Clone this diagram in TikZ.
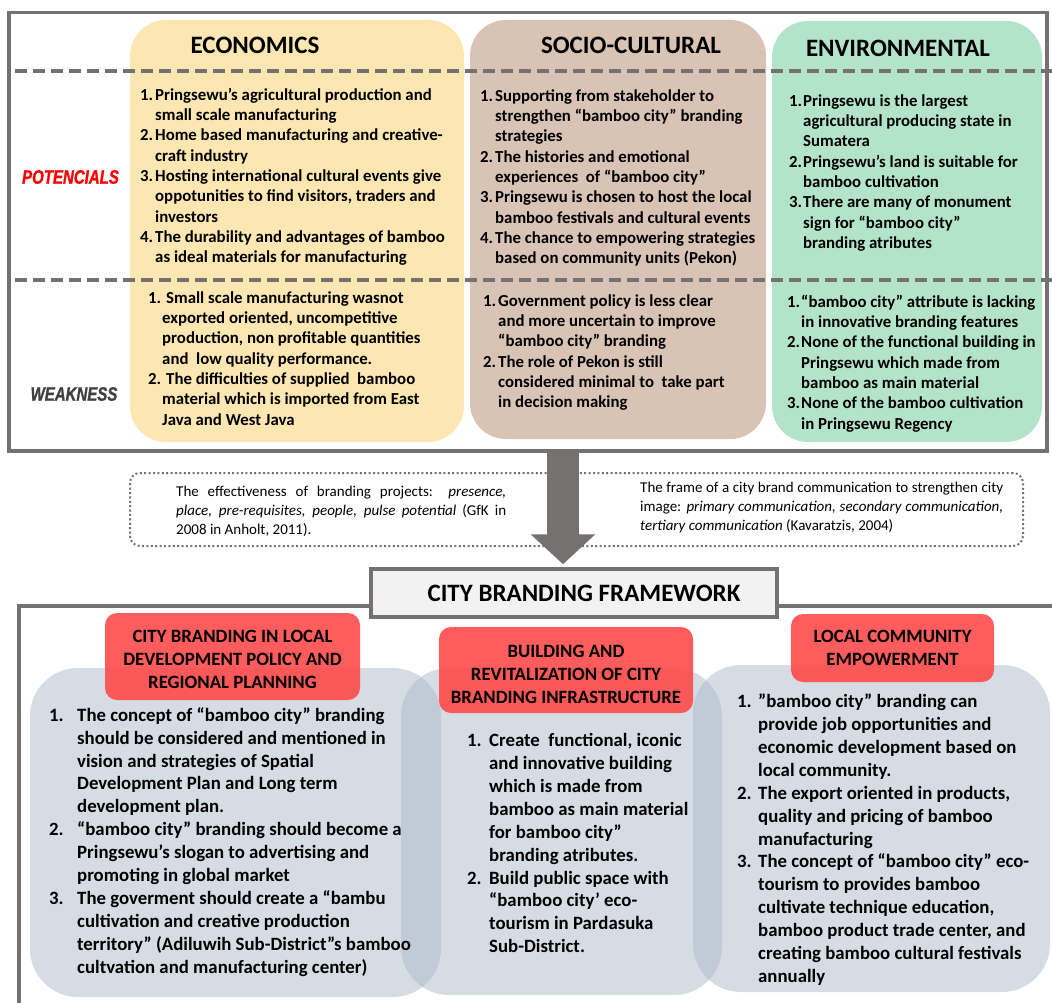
\documentclass[tikz,border=0pt]{standalone}
\usepackage{fontspec}
\setmainfont{Carlito}
\newfontfamily\etiquette[FakeStretch=0.77,FakeBold=1.2]{Liberation Sans}
\usetikzlibrary{arrows.meta}
\definecolor{framegray}{HTML}{767171}
\definecolor{ecofill}{HTML}{FCE7B2}
\definecolor{sociofill}{HTML}{D8C3B5}
\definecolor{envfill}{HTML}{B3E3C9}
\definecolor{panelblue}{HTML}{ADB9CA}
\definecolor{headred}{HTML}{FF4B4B}
\definecolor{cbffill}{HTML}{F2F2F2}
\definecolor{weakgray}{HTML}{404040}
\newcommand{\nr}[2][15pt]{\makebox[#1][l]{#2}}

\begin{document}
\begin{tikzpicture}[x=1pt,y=-1pt]
% définition des styles
\tikzstyle{cadre}=[draw=framegray,line width=3.5pt]
\tikzstyle{colonne}=[rectangle,rounded corners=36pt,inner sep=0pt]
\tikzstyle{titre}=[font=\fontsize{25}{30}\selectfont\bfseries,inner sep=0pt]
\tikzstyle{liste}=[anchor=north west,align=left,inner sep=0pt,font=\fontsize{16.8}{20.3}\selectfont\bfseries]
\tikzstyle{grandeliste}=[anchor=north west,align=left,inner sep=0pt,font=\fontsize{18.8}{22.9}\selectfont\bfseries]
\tikzstyle{tirets}=[draw=framegray,line width=4pt,dash pattern=on 12pt off 6pt]
\tikzstyle{reftexte}=[anchor=north west,inner sep=0pt,align=justify,font=\fontsize{15}{19}\selectfont]
\tikzstyle{panneau}=[rectangle,rounded corners=48pt,fill=panelblue,fill opacity=0.5,inner sep=0pt]
\tikzstyle{entete}=[rectangle,rounded corners=12pt,fill=headred,fill opacity=0.9,text opacity=1,align=center,inner sep=0pt,font=\fontsize{18.8}{23}\selectfont\bfseries]
\tikzstyle{fleche}=[draw=framegray,line width=32pt,-{Triangle[width=63pt,length=30pt]}]
\useasboundingbox (0,0) rectangle (1052,1003);
% le cadre du haut
\node[cadre,rectangle,minimum width=1038pt,minimum height=438.5pt,inner sep=0pt] (FRAME) at (528,231.75) {};
\node[colonne,fill=ecofill,minimum width=334pt,minimum height=422pt] (ECO) at (297,231) {};
\node[colonne,fill=sociofill,minimum width=296pt,minimum height=419pt] (SOC) at (618,229.5) {};
\node[colonne,fill=envfill,minimum width=270pt,minimum height=421pt] (ENV) at (907,231.5) {};
\draw[tirets] (15,71) -- (1052,71);
\draw[tirets] (15,280) -- (1052,280);
% les titres
\node[titre] (ECOT) at (255,45.6) {ECONOMICS};
\node[titre] (SOCT) at (631,45.6) {SOCIO-CULTURAL};
\node[titre] (ENVT) at (898,48) {ENVIRONMENTAL};
\node[font=\etiquette\fontsize{19.5}{20}\selectfont\bfseries\itshape,text=red,inner sep=0pt] (POT) at (70.5,177) {POTENCIALS};
\node[font=\etiquette\fontsize{19.5}{20}\selectfont\bfseries\itshape,text=weakgray,inner sep=0pt] (WEAK) at (74,394) {WEAKNESS};
% les listes du haut
\node[liste] (ECOP) at (140,85.8) {\strut\nr{1.}Pringsewu’s agricultural production and\\
\nr{}small scale manufacturing\\
\nr{2.}Home based manufacturing and creative-\\
\nr{}craft industry\\
\nr{3.}Hosting international cultural events give\\
\nr{}oppotunities to find visitors, traders and\\
\nr{}investors\\
\nr{4.}The durability and advantages of bamboo\\
\nr{}as ideal materials for manufacturing};
\node[liste] (ECOW) at (148,288.8) {\strut\nr[18pt]{1.}Small scale manufacturing wasnot\\
\nr[14pt]{}exported oriented, uncompetitive\\
\nr[14pt]{}production, non profitable quantities\\
\nr[14pt]{}and\ \ low quality performance.\\
\nr[18pt]{2.}The difficulties of supplied\ \ bamboo\\
\nr[14pt]{}material which is imported from East\\
\nr[14pt]{}Java and West Java};
\node[liste] (SOCP) at (480,86.8) {\strut\nr{1.}Supporting from stakeholder to\\
\nr{}strengthen “bamboo city” branding\\
\nr{}strategies\\
\nr{2.}The histories and emotional\\
\nr{}experiences\ \ of “bamboo city”\\
\nr{3.}Pringsewu is chosen to host the local\\
\nr{}bamboo festivals and cultural events\\
\nr{4.}The chance to empowering strategies\\
\nr{}based on community units (Pekon)};
\node[liste] (SOCW) at (483,291.8) {\strut\nr{1.}Government policy is less clear\\
\nr{}and more uncertain to improve\\
\nr{}“bamboo city” branding\\
\nr{2.}The role of Pekon is still\\
\nr{}considered minimal to\ \ take part\\
\nr{}in decision making};
\node[liste] (ENVP) at (789,91.8) {\strut\nr[14pt]{1.}Pringsewu is the largest\\
\nr[14pt]{}agricultural producing state in\\
\nr[14pt]{}Sumatera\\
\nr[14pt]{2.}Pringsewu’s land is suitable for\\
\nr[14pt]{}bamboo cultivation\\
\nr[14pt]{3.}There are many of monument\\
\nr[14pt]{}sign for “bamboo city”\\
\nr[14pt]{}branding atributes};
\node[liste] (ENVW) at (787,292.8) {\strut\nr[14pt]{1.}“bamboo city” attribute is lacking\\
\nr[14pt]{}in innovative branding features\\
\nr[14pt]{2.}None of the functional building in\\
\nr[14pt]{}Pringsewu which made from\\
\nr[14pt]{}bamboo as main material\\
\nr[14pt]{3.}None of the bamboo cultivation\\
\nr[14pt]{}in Pringsewu Regency};
% les références
\node[draw=framegray,line width=2pt,dash pattern=on 2pt off 2.4pt,rounded corners=10pt,minimum width=893pt,minimum height=73pt,inner sep=0pt] (REF) at (576.5,509.5) {};
\node[reftexte,text width=330pt] (REFG) at (176,483.2) {\strut The effectiveness of branding projects: \textit{presence,}\linebreak \textit{place, pre-requisites, people, pulse potential} (GfK in\linebreak 2008 in Anholt, 2011).};
\node[reftexte,text width=363pt] (REFD) at (640,479.2) {\strut The frame of a city brand communication to strengthen city\linebreak image: \textit{primary communication, secondary communication,}\linebreak \textit{tertiary communication} (Kavaratzis, 2004)};
% le cadre du bas
\draw[cadre] (19,1015) |- (1060,606);
\node[cadre,rectangle,fill=cbffill,minimum width=406pt,minimum height=48pt,inner sep=0pt,font=\fontsize{25}{30}\selectfont\bfseries] (CBF) at (574,593) {\hspace*{20pt}CITY BRANDING FRAMEWORK};
% la flèche
\coordinate (FL) at (563,0);
\draw[fleche,shorten >=3pt] (FRAME.south -| FL) -- (CBF.north -| FL);
% les panneaux
\node[panneau,minimum width=411pt,minimum height=329pt] (B1) at (235.5,832.5) {};
\node[panneau,minimum width=321pt,minimum height=327pt] (B2) at (561.5,831.5) {};
\node[panneau,minimum width=357pt,minimum height=327pt] (B3) at (871.5,828.5) {};
\node[entete,minimum width=255pt,minimum height=87pt] (R1) at (232.5,656.5) {\rule{0pt}{18pt}CITY BRANDING IN LOCAL\\DEVELOPMENT POLICY AND\\REGIONAL PLANNING};
\node[entete,minimum width=254pt,minimum height=86pt] (R2) at (566,670) {\rule{0pt}{22pt}BUILDING AND\\REVITALIZATION OF CITY\\BRANDING INFRASTRUCTURE};
\node[entete,minimum width=203pt,minimum height=68pt] (R3) at (892.5,648) {LOCAL COMMUNITY\\EMPOWERMENT};
% les listes du bas
\node[grandeliste] (L1) at (49,705) {\strut\nr[28pt]{1.}The concept of “bamboo city” branding\\
\nr[28pt]{}should be considered and mentioned in\\
\nr[28pt]{}vision and strategies of Spatial\\
\nr[28pt]{}Development Plan and Long term\\
\nr[28pt]{}development plan.\\
\nr[28pt]{2.}“bamboo city” branding should become a\\
\nr[28pt]{}Pringsewu’s slogan to advertising and\\
\nr[28pt]{}promoting in global market\\
\nr[28pt]{3.}The goverment should create a “bambu\\
\nr[28pt]{}cultivation and creative production\\
\nr[28pt]{}territory” (Adiluwih Sub-District”s bamboo\\
\nr[28pt]{}cultvation and manufacturing center)};
\node[grandeliste] (L2) at (467,730.4) {\strut\nr[22pt]{1.}Create\ \ functional, iconic\\
\nr[22pt]{}and innovative building\\
\nr[22pt]{}which is made from\\
\nr[22pt]{}bamboo as main material\\
\nr[22pt]{}for bamboo city”\\
\nr[22pt]{}branding atributes.\\
\nr[22pt]{2.}Build public space with\\
\nr[22pt]{}“bamboo city’ eco-\\
\nr[22pt]{}tourism in Pardasuka\\
\nr[22pt]{}Sub-District.};
\node[grandeliste] (L3) at (737,691.4) {\strut\nr[21pt]{1.}”bamboo city” branding can\\
\nr[21pt]{}provide job opportunities and\\
\nr[21pt]{}economic development based on\\
\nr[21pt]{}local community.\\
\nr[21pt]{2.}The export oriented in products,\\
\nr[21pt]{}quality and pricing of bamboo\\
\nr[21pt]{}manufacturing\\
\nr[21pt]{3.}The concept of “bamboo city” eco-\\
\nr[21pt]{}tourism to provides bamboo\\
\nr[21pt]{}cultivate technique education,\\
\nr[21pt]{}bamboo product trade center, and\\
\nr[21pt]{}creating bamboo cultural festivals\\
\nr[21pt]{}annually};
\end{tikzpicture}
\end{document}
